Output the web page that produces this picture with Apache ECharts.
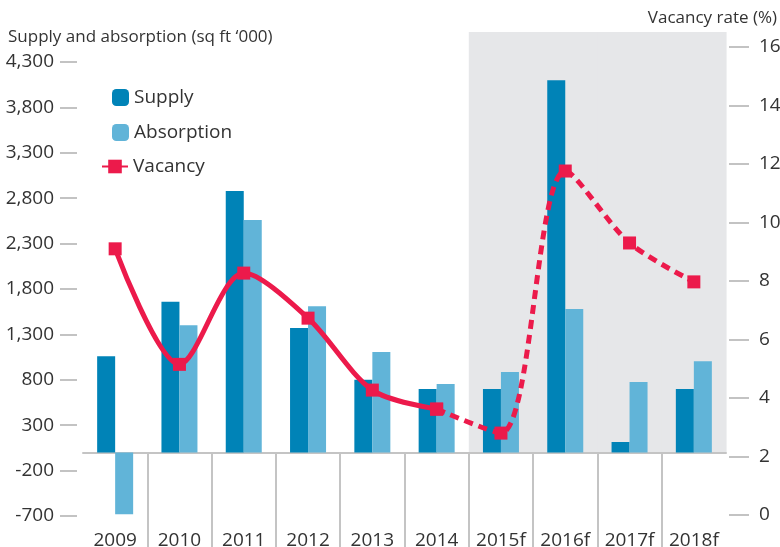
<!DOCTYPE html>
<html><head><meta charset="utf-8">
<script src="https://cdn.jsdelivr.net/npm/echarts@6/dist/echarts.min.js"></script>
<style>html,body{margin:0;padding:0;background:#fff}#c{width:780px;height:547px}</style>
</head><body><div id="c"></div>
<script>
const categories = ['2009','2010','2011','2012','2013','2014','2015f','2016f','2017f','2018f'];
const supply = [1060, 1660, 2880, 1370, 800, 700, 700, 4100, 115, 700];
const absorption = [-680, 1400, 2560, 1610, 1105, 755, 885, 1580, 775, 1005];
const vacancy = [9.1, 5.15, 8.27, 6.73, 4.27, 3.62, 2.8, 11.76, 9.3, 7.97];
const forecastCategories = ['2015f','2016f','2017f','2018f'];
const lastActual = '2014';
const leftAxis = { min: -700, max: 4300, interval: 500 };
const rightAxis = { min: 0, max: 16, interval: 2 };

const FONT = '"Open Sans", sans-serif';
const TXT = '#333333';
const RED = '#ec1a4b';
const split = categories.indexOf(lastActual);
const vacSolid = vacancy.map((v, i) => i <= split ? v : null);
const vacDash = vacancy.map((v, i) => i >= split ? v : null);

const chart = echarts.init(document.getElementById('c'), null, { renderer: 'canvas' });
chart.setOption({
  animation: false,
  textStyle: { fontFamily: FONT },
  title: [
    { text: 'Supply and absorption (sq ft \u2018000)', left: 3, top: 24,
      textStyle: { fontFamily: FONT, fontSize: 17, fontWeight: 'normal', color: TXT } },
    { text: 'Vacancy rate (%)', right: -2, top: 5,
      textStyle: { fontFamily: FONT, fontSize: 17, fontWeight: 'normal', color: TXT } }
  ],
  legend: [
    { data: ['Supply', 'Absorption'], orient: 'vertical', left: 107, top: 83,
      itemWidth: 17, itemHeight: 17, itemGap: 16, selectedMode: false,
      textStyle: { fontFamily: FONT, fontSize: 19, color: TXT } },
    { data: ['Vacancy'], orient: 'vertical', left: 96, top: 152,
      itemWidth: 26, itemHeight: 17, selectedMode: false,
      textStyle: { fontFamily: FONT, fontSize: 19, color: TXT } }
  ],
  grid: [
    { left: 83, right: 54, top: 62, bottom: 31, containLabel: false, outerBoundsMode: 'none' },
    { left: 83, right: 54, top: 47, bottom: 32, containLabel: false, outerBoundsMode: 'none' },
    { left: 83, right: 54, top: 452, bottom: 0, containLabel: false, outerBoundsMode: 'none' }
  ],
  xAxis: [
    { gridIndex: 0, type: 'category', data: categories,
      axisLine: { onZero: true, lineStyle: { color: '#c4c4c4', width: 2 } },
      axisTick: { show: false }, axisLabel: { show: false } },
    { gridIndex: 1, type: 'category', data: categories, show: false },
    { gridIndex: 2, type: 'category', data: categories, position: 'bottom',
      axisLine: { show: false }, axisTick: { show: false },
      axisLabel: { show: true, inside: true, interval: 0, margin: -3, fontSize: 19, lineHeight: 19,
        color: TXT, fontFamily: FONT },
      splitLine: { show: true, interval: 0, showMinLine: false, showMaxLine: false,
        lineStyle: { color: '#c4c4c4', width: 2 } } }
  ],
  yAxis: [
    { gridIndex: 0, type: 'value', min: leftAxis.min, max: leftAxis.max, interval: leftAxis.interval,
      offset: 6, axisLine: { show: false },
      axisTick: { show: true, length: 17, lineStyle: { color: '#b0b0b0', width: 1.5 } },
      axisLabel: { margin: 23, fontSize: 19, color: TXT, fontFamily: FONT,
        formatter: v => v.toLocaleString('en-US') },
      splitLine: { show: false } },
    { gridIndex: 1, type: 'value', position: 'right', min: rightAxis.min, max: rightAxis.max,
      interval: rightAxis.interval, offset: 3, axisLine: { show: false },
      axisTick: { show: true, length: 20, lineStyle: { color: '#b0b0b0', width: 1.5 } },
      axisLabel: { margin: 30, fontSize: 19, color: TXT, fontFamily: FONT },
      splitLine: { show: false } },
    { gridIndex: 2, type: 'value', show: false }
  ],
  series: [
    { name: 'forecast', type: 'custom', xAxisIndex: 0, yAxisIndex: 0, z: 0, silent: true,
      data: forecastCategories.map(c => [c, 0]), encode: { x: 0, y: 1 },
      renderItem: (params, api) => {
        const c = api.coord([api.value(0), 0]);
        const w = api.size([1, 0])[0];
        const top = params.coordSys.y - 30;
        return { type: 'rect', shape: { x: c[0] - w / 2, y: top, width: w + 0.6, height: c[1] - top },
          style: { fill: '#e6e7e9' } };
      } },
    { name: 'Supply', type: 'bar', xAxisIndex: 0, yAxisIndex: 0, data: supply,
      barWidth: 18, barGap: '0%', itemStyle: { color: '#0083b7' }, z: 2 },
    { name: 'Absorption', type: 'bar', xAxisIndex: 0, yAxisIndex: 0, data: absorption,
      barWidth: 18, barGap: '0%', itemStyle: { color: '#61b4d8' }, z: 2 },
    { name: 'Vacancy', type: 'line', xAxisIndex: 1, yAxisIndex: 1, data: vacSolid, z: 5,
      smooth: 0.3, symbol: 'rect', symbolSize: 13, connectNulls: false,
      lineStyle: { color: RED, width: 5 }, itemStyle: { color: RED } },
    { name: 'Vacancy', type: 'line', xAxisIndex: 1, yAxisIndex: 1, data: vacDash, z: 5,
      smooth: 0.3, symbol: 'rect', symbolSize: 13, connectNulls: false,
      lineStyle: { color: RED, width: 5, type: [9, 6] }, itemStyle: { color: RED } }
  ]
});
</script></body></html>
